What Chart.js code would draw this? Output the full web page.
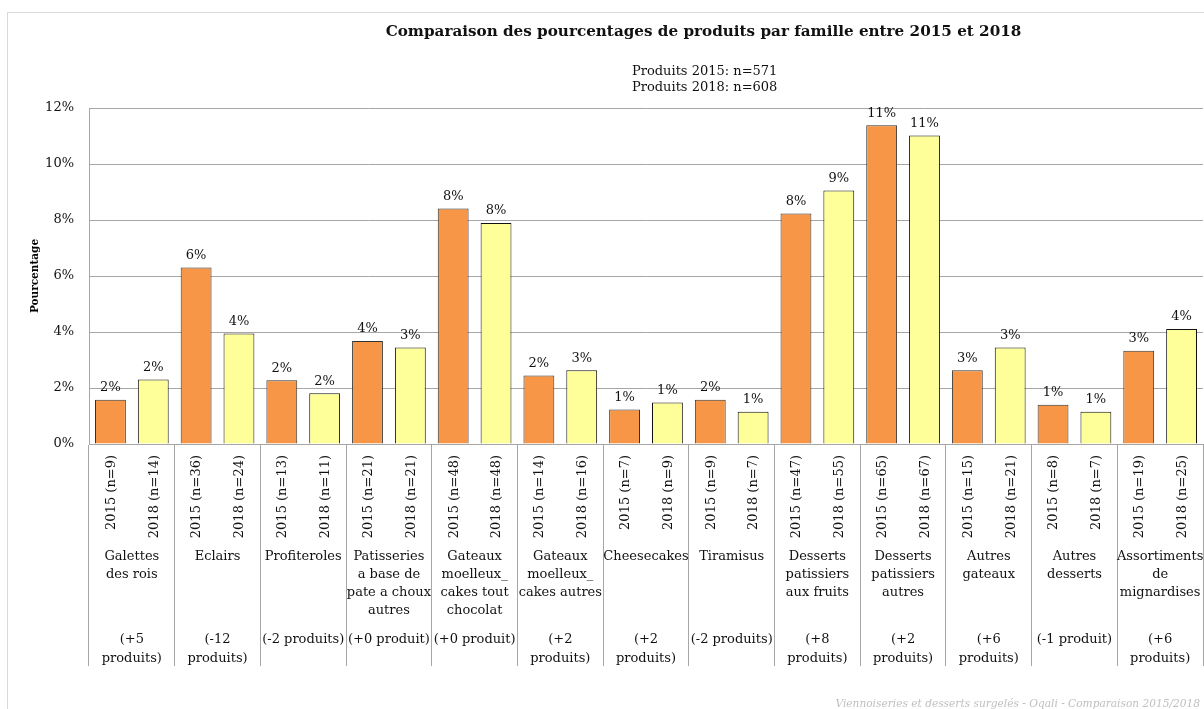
<!DOCTYPE html>
<html><head><meta charset="utf-8">
<script src="https://cdn.jsdelivr.net/npm/chart.js@4.4.1/dist/chart.umd.min.js"></script>
<style>html,body{margin:0;padding:0;background:#fff;overflow:hidden}#wrap{width:1204px;height:709px;position:relative;background:#fff}</style>
</head><body><div id="wrap"><canvas id="c" width="1204" height="709"></canvas></div>
<script>
// ---- data ----
const families = [["Galettes","des rois"],["Eclairs"],["Profiteroles"],["Patisseries","a base de","pate a choux","autres"],["Gateaux","moelleux_","cakes tout","chocolat"],["Gateaux","moelleux_","cakes autres"],["Cheesecakes"],["Tiramisus"],["Desserts","patissiers","aux fruits"],["Desserts","patissiers","autres"],["Autres","gateaux"],["Autres","desserts"],["Assortiments","de","mignardises"]];
const changes = [["(+5","produits)"],["(-12","produits)"],["(-2 produits)"],["(+0 produit)"],["(+0 produit)"],["(+2","produits)"],["(+2","produits)"],["(-2 produits)"],["(+8","produits)"],["(+2","produits)"],["(+6","produits)"],["(-1 produit)"],["(+6","produits)"]];
const years = ["2015","2018"];
const n2015 = [9,36,13,21,48,14,7,9,47,65,15,8,19];
const n2018 = [14,24,11,21,48,16,9,7,55,67,21,7,25];
const pct2015 = [1.58,6.30,2.28,3.68,8.41,2.45,1.23,1.58,8.23,11.38,2.63,1.40,3.33];
const pct2018 = [2.30,3.95,1.81,3.45,7.89,2.63,1.48,1.15,9.05,11.02,3.45,1.15,4.11];
const yTicks = [0,2,4,6,8,10,12];
const titleText = "Comparaison des pourcentages de produits par famille entre 2015 et 2018";
const subtitleLines = ["Produits 2015: n=571","Produits 2018: n=608"];
const footerText = "Viennoiseries et desserts surgelés - Oqali - Comparaison 2015/2018";
const yTitle = "Pourcentage";

const FAM = "'DejaVu Serif', serif";
const TXT = '#111111';
const GRID = '#a6a6a6';

const textPlugin = {
  id: 'texts',
  afterDraw(chart) {
    const ctx = chart.ctx;
    const xs = chart.scales.x;
    ctx.save();
    // outer border
    ctx.strokeStyle = '#d9d9d9'; ctx.lineWidth = 1;
    ctx.strokeRect(7.5, 12.5, 1300, 800);
    // title
    ctx.fillStyle = TXT;
    ctx.font = "bold 15.2px " + FAM;
    ctx.textAlign = 'center'; ctx.textBaseline = 'middle';
    ctx.fillText(titleText, 703.5, 32);
    // subtitle
    ctx.font = "13px " + FAM;
    ctx.textAlign = 'left';
    subtitleLines.forEach((t, i) => ctx.fillText(t, 632, 72 + i * 16));
    // value labels and rotated bar labels
    const nArr = [n2015, n2018];
    [0, 1].forEach(ds => {
      const meta = chart.getDatasetMeta(ds);
      const vals = chart.data.datasets[ds].data;
      meta.data.forEach((el, i) => {
        ctx.font = "13px " + FAM;
        ctx.fillStyle = TXT;
        ctx.textAlign = 'center'; ctx.textBaseline = 'middle';
        ctx.fillText(Math.round(vals[i]) + '%', el.x, el.y - 12);
        ctx.save();
        ctx.translate(el.x + 1, 455);
        ctx.rotate(-Math.PI / 2);
        ctx.textAlign = 'right';
        ctx.fillText(years[ds] + ' (n=' + nArr[ds][i] + ')', 0, 0);
        ctx.restore();
      });
    });
    // family names and changes
    ctx.font = "13px " + FAM;
    ctx.textAlign = 'center'; ctx.textBaseline = 'middle';
    families.forEach((lines, i) => {
      const cx = xs.getPixelForValue(i);
      lines.forEach((t, j) => ctx.fillText(t, cx, 557 + j * 18));
      changes[i].forEach((t, j) => ctx.fillText(t, cx, 640 + j * 18.5));
    });
    // footer
    ctx.font = "italic 10.6px " + FAM;
    ctx.fillStyle = '#bfbfbf';
    ctx.textAlign = 'right';
    ctx.fillText(footerText, 1200, 704);
    ctx.restore();
  }
};

new Chart(document.getElementById('c'), {
  type: 'bar',
  data: {
    labels: families,
    datasets: [
      { label: years[0], data: pct2015, backgroundColor: '#F79646', borderColor: '#333333', borderWidth: 1, categoryPercentage: 1, barPercentage: 0.72 },
      { label: years[1], data: pct2018, backgroundColor: '#FFFF99', borderColor: '#111111', borderWidth: 1, categoryPercentage: 1, barPercentage: 0.72 }
    ]
  },
  options: {
    responsive: false, animation: false, devicePixelRatio: 1,
    layout: { padding: { left: 0, right: 1, top: 108, bottom: 43 } },
    plugins: { legend: { display: false }, tooltip: { enabled: false }, title: { display: false } },
    scales: {
      x: {
        offset: true,
        ticks: { display: false },
        grid: { display: true, offset: true, drawOnChartArea: false, drawTicks: true, tickLength: 222, color: GRID, lineWidth: 1 },
        border: { display: true, color: GRID },
        afterFit: s => { s.height = 222; }
      },
      y: {
        min: 0, max: 12,
        afterBuildTicks: s => { s.ticks = yTicks.map(v => ({ value: v })); },
        ticks: { callback: v => v + '%', font: { family: FAM, size: 13 }, color: TXT, padding: 15 },
        grid: { color: GRID, drawTicks: false },
        border: { display: true, color: GRID },
        title: { display: true, text: yTitle, font: { family: FAM, size: 10.5, weight: 'bold' }, color: '#000', padding: { top: 29, bottom: 0 } },
        afterFit: s => { s.width = 89; }
      }
    }
  },
  plugins: [textPlugin]
});
</script>
</body></html>
